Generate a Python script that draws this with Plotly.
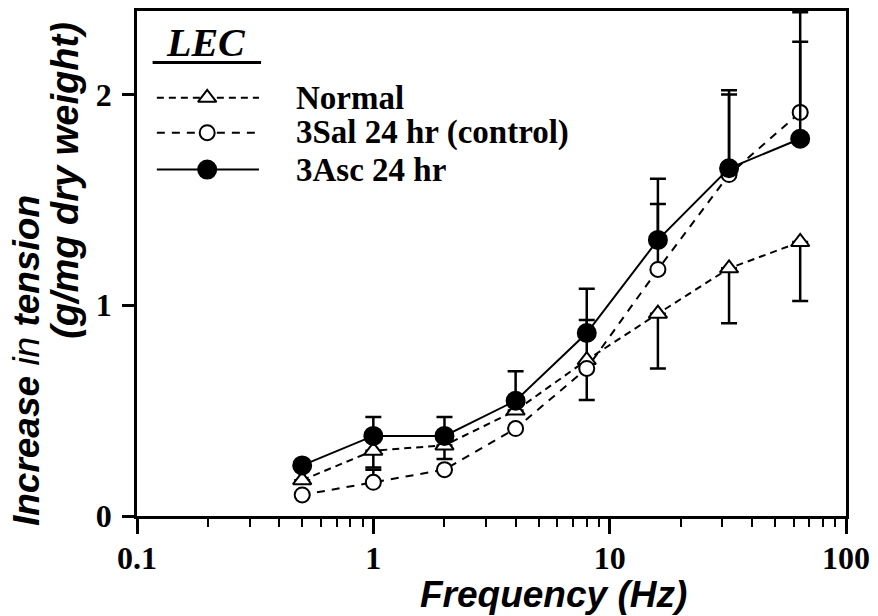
import plotly.graph_objects as go

# ---- data ----
freq = [0.5, 1, 2, 4, 8, 16, 32, 64]

normal = [0.17, 0.31, 0.335, 0.50, 0.74, 0.96, 1.175, 1.30]
normal_up = [0, 0, 0, 0, 0.19, 0, 0, 0]
normal_dn = [0, 0.08, 0.065, 0, 0.19, 0.26, 0.26, 0.28]

sal = [0.10, 0.16, 0.22, 0.415, 0.70, 1.17, 1.62, 1.915]
sal_up = [0, 0.06, 0, 0, 0, 0.31, 0.38, 0.475]
sal_dn = [0, 0, 0, 0, 0, 0, 0, 0]

asc = [0.24, 0.38, 0.38, 0.547, 0.868, 1.31, 1.65, 1.79]
asc_up = [0, 0.09, 0.09, 0.14, 0.21, 0.29, 0.37, 0.46]
asc_dn = [0, 0, 0, 0, 0, 0, 0, 0]

names = ["Normal", "3Sal 24 hr (control)", "3Asc 24 hr"]
xtickvals = [0.1, 1, 10, 100]
xticktext = ["0.1", "1", "10", "100"]
ytickvals = [0, 1, 2]

# ---- styles ----
dashes = ["7px,5px", "8px,7px", "solid"]
symbols = ["triangle-up", "circle", "circle"]
fills = ["white", "white", "black"]
sizes = [16, 15, 18]

fig = go.Figure()

series = [(normal, normal_up, normal_dn), (sal, sal_up, sal_dn), (asc, asc_up, asc_dn)]
for i, (vals, up, dn) in enumerate(series):
    fig.add_trace(go.Scatter(
        x=freq, y=vals, mode="lines+markers", name=names[i],
        line=dict(color="black", width=2, dash=dashes[i]),
        marker=dict(symbol=symbols[i], size=sizes[i], color=fills[i],
                    line=dict(color="black", width=2)),
        error_y=dict(type="data", symmetric=False, array=up, arrayminus=dn,
                     color="black", thickness=2.5, width=8),
        cliponaxis=False,
        showlegend=False,
    ))

# ---- custom legend on an overlay axis (paper-like 0..1 coordinates) ----
leg_rows = [0.828, 0.759, 0.686]
leg_x0, leg_xm, leg_x1 = 0.028, 0.099, 0.172
for i in range(3):
    fig.add_trace(go.Scatter(
        x=[leg_x0, leg_x1], y=[leg_rows[i], leg_rows[i]], mode="lines",
        line=dict(color="black", width=2, dash=dashes[i]),
        xaxis="x2", yaxis="y2", showlegend=False, hoverinfo="skip"))
    fig.add_trace(go.Scatter(
        x=[leg_xm], y=[leg_rows[i]], mode="markers",
        marker=dict(symbol=symbols[i], size=sizes[i], color=fills[i],
                    line=dict(color="black", width=2)),
        xaxis="x2", yaxis="y2", showlegend=False, hoverinfo="skip"))
    fig.add_annotation(
        x=0.222, y=leg_rows[i], xref="paper", yref="paper",
        xanchor="left", yanchor="middle", showarrow=False,
        text="<b>" + names[i] + "</b>",
        font=dict(family="Liberation Serif", size=33, color="black"))

fig.add_annotation(
    x=0.098, y=0.938, xref="paper", yref="paper", xanchor="center",
    yanchor="middle", showarrow=False, text="<b><i>LEC</i></b>",
    font=dict(family="Liberation Serif", size=40, color="black"))
fig.add_shape(type="line", xref="paper", yref="paper",
              x0=0.022, x1=0.175, y0=0.898, y1=0.898,
              line=dict(color="black", width=3))

# ---- axis titles ----
fig.add_annotation(
    x=0.588, y=-0.156, xref="paper", yref="paper", xanchor="center",
    yanchor="middle", showarrow=False, text="<b><i>Frequency (Hz)</i></b>",
    font=dict(family="Liberation Sans", size=37, color="black"))
fig.add_annotation(
    x=-0.155, y=0.307, xref="paper", yref="paper",
    xanchor="center", yanchor="middle", showarrow=False, textangle=-90,
    text="<b><i>Increase </i></b><i>in</i><b><i> tension</i></b>",
    font=dict(family="Liberation Sans", size=37, color="black"))
fig.add_annotation(
    x=-0.102, y=0.665, xref="paper", yref="paper",
    xanchor="center", yanchor="middle", showarrow=False, textangle=-90,
    text="<b><i>(g/mg dry weight)</i></b>",
    font=dict(family="Liberation Sans", size=38, color="black"))

fig.update_layout(
    width=878, height=616,
    margin=dict(l=137, r=25, t=8, b=100),
    paper_bgcolor="white", plot_bgcolor="white",
    showlegend=False,
    xaxis=dict(
        type="log", range=[-1, 2], tickvals=xtickvals, ticktext=xticktext,
        ticks="outside", ticklen=15, tickwidth=2.5, tickcolor="black",
        showline=True, linecolor="black", linewidth=2.5, mirror=True,
        showgrid=False, zeroline=False, ticklabelstandoff=-3,
        tickfont=dict(family="Liberation Serif", size=32, color="black", weight="bold"),
        minor=dict(ticks="outside", ticklen=8, tickwidth=2, tickcolor="black",
                   dtick="D1", showgrid=False),
    ),
    yaxis=dict(
        range=[0, 2.396], tickvals=ytickvals,
        ticks="outside", ticklen=12, tickwidth=2.5, tickcolor="black",
        showline=True, linecolor="black", linewidth=2.5, mirror=True,
        showgrid=False, zeroline=False, ticklabelstandoff=4,
        tickfont=dict(family="Liberation Serif", size=32, color="black", weight="bold"),
    ),
    xaxis2=dict(overlaying="x", range=[0, 1], visible=False, fixedrange=True),
    yaxis2=dict(overlaying="y", range=[0, 1], visible=False, fixedrange=True),
)

fig.write_html("out.html")
